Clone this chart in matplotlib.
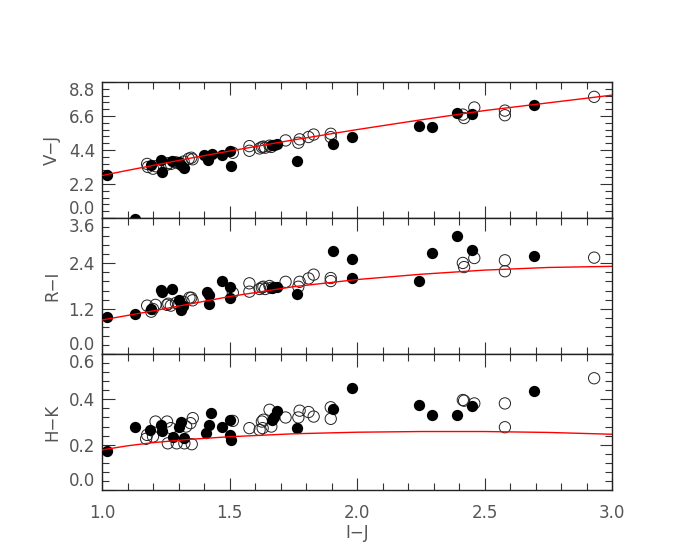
import numpy as np
import matplotlib
matplotlib.use("Agg")
import matplotlib.pyplot as plt
from matplotlib.ticker import MultipleLocator

# ---- data ----
# V-J panel
vj_fill_x = [1.02, 1.13, 1.193, 1.232, 1.236, 1.275, 1.30, 1.31, 1.32, 1.40, 1.415, 1.43, 1.47,
             1.50, 1.504, 1.667, 1.676, 1.687, 1.765, 1.905, 1.98, 2.245, 2.295, 2.393, 2.45, 2.695]
vj_fill_y = [2.77, -0.05, 3.41, 3.77, 2.97, 3.72, 3.62, 3.45, 3.23, 4.09, 3.73, 4.16, 4.05,
             4.31, 3.36, 4.70, 4.74, 4.76, 3.66, 4.79, 5.27, 5.93, 5.88, 6.80, 6.73, 7.28]
vj_open_x = [1.177, 1.18, 1.20, 1.21, 1.255, 1.26, 1.27, 1.29, 1.30, 1.32, 1.34, 1.35, 1.355,
             1.513, 1.578, 1.578, 1.618, 1.627, 1.633, 1.64, 1.657, 1.664, 1.72, 1.77, 1.775,
             1.81, 1.83, 1.897, 1.897, 2.415, 2.42, 2.46, 2.58, 2.58, 2.93]
vj_open_y = [3.50, 3.30, 3.19, 3.35, 3.45, 3.55, 3.50, 3.60, 3.55, 3.65, 3.84, 3.90, 3.80,
             4.22, 4.65, 4.35, 4.50, 4.58, 4.62, 4.55, 4.68, 4.60, 5.02, 4.87, 5.09,
             5.24, 5.40, 5.45, 5.23, 6.69, 6.47, 7.15, 6.95, 6.65, 7.84]

# R-I panel
ri_fill_x = [1.02, 1.13, 1.193, 1.232, 1.236, 1.275, 1.30, 1.31, 1.317, 1.41, 1.42, 1.418, 1.47,
             1.503, 1.503, 1.667, 1.676, 1.687, 1.765, 1.905, 1.98, 1.98, 2.245, 2.295, 2.393,
             2.45, 2.695]
ri_fill_y = [0.99, 1.07, 1.19, 1.69, 1.63, 1.72, 1.43, 1.17, 1.26, 1.63, 1.56, 1.32, 1.93,
             1.78, 1.49, 1.74, 1.76, 1.77, 1.59, 2.72, 2.52, 2.02, 1.94, 2.67, 3.13,
             2.76, 2.59]
ri_open_x = [1.177, 1.193, 1.20, 1.21, 1.255, 1.26, 1.27, 1.29, 1.30, 1.32, 1.343, 1.35, 1.355,
             1.513, 1.578, 1.578, 1.618, 1.627, 1.633, 1.64, 1.657, 1.664, 1.72, 1.77, 1.775,
             1.81, 1.83, 1.897, 1.897, 2.415, 2.42, 2.46, 2.58, 2.58, 2.93]
ri_open_y = [1.28, 1.12, 1.19, 1.30, 1.30, 1.33, 1.28, 1.35, 1.32, 1.38, 1.49, 1.49, 1.42,
             1.62, 1.87, 1.65, 1.72, 1.76, 1.78, 1.72, 1.80, 1.75, 1.91, 1.78, 1.91,
             2.00, 2.10, 2.01, 1.93, 2.41, 2.30, 2.54, 2.48, 2.19, 2.55]

# H-K panel
hk_fill_x = [1.02, 1.13, 1.19, 1.23, 1.236, 1.278, 1.30, 1.31, 1.32, 1.408, 1.418, 1.428, 1.47,
             1.503, 1.50, 1.504, 1.667, 1.676, 1.687, 1.765, 1.905, 1.98, 2.245, 2.295, 2.393,
             2.45, 2.695]
hk_fill_y = [0.172, 0.280, 0.265, 0.288, 0.261, 0.232, 0.280, 0.299, 0.229, 0.251, 0.288, 0.339,
             0.277, 0.310, 0.243, 0.221, 0.310, 0.324, 0.347, 0.273, 0.358, 0.448, 0.377, 0.331,
             0.333, 0.372, 0.438]
hk_open_x = [1.173, 1.177, 1.20, 1.21, 1.255, 1.258, 1.27, 1.293, 1.323, 1.33, 1.347, 1.356, 1.352,
             1.513, 1.578, 1.618, 1.627, 1.633, 1.63, 1.657, 1.664, 1.72, 1.77, 1.775, 1.81,
             1.83, 1.897, 1.897, 2.415, 2.42, 2.46, 2.58, 2.58, 2.93]
hk_open_y = [0.226, 0.243, 0.236, 0.302, 0.302, 0.206, 0.273, 0.206, 0.206, 0.280, 0.295, 0.317,
             0.202, 0.305, 0.273, 0.265, 0.302, 0.310, 0.273, 0.354, 0.280, 0.320, 0.320, 0.350,
             0.344, 0.324, 0.365, 0.314, 0.397, 0.394, 0.382, 0.382, 0.277, 0.493]

# red fit curves, read at these I-J values
fit_x = [1.0, 1.1, 1.2, 1.35, 1.5, 1.75, 2.0, 2.25, 2.5, 2.75, 3.0]
vj_fit = [2.75, 3.08, 3.40, 3.88, 4.33, 5.05, 5.72, 6.35, 6.95, 7.45, 7.95]
ri_fit = [0.90, 1.02, 1.14, 1.33, 1.52, 1.78, 1.97, 2.11, 2.22, 2.29, 2.32]
hk_fit = [0.177, 0.195, 0.209, 0.224, 0.235, 0.248, 0.255, 0.258, 0.258, 0.254, 0.246]

panels = [
    ("V\u2212J", vj_fill_x, vj_fill_y, vj_open_x, vj_open_y, vj_fit, 8.8, [0.0, 2.2, 4.4, 6.6, 8.8]),
    ("R\u2212I", ri_fill_x, ri_fill_y, ri_open_x, ri_open_y, ri_fit, 3.6, [0.0, 1.2, 2.4, 3.6]),
    ("H\u2212K", hk_fill_x, hk_fill_y, hk_open_x, hk_open_y, hk_fit, 0.6, [0.0, 0.2, 0.4, 0.6]),
]

txt_color = "#555555"
fig = plt.figure(figsize=(6.81, 5.45), dpi=100)
left, width = 102 / 681, 510 / 681
bottoms = [0.6, 0.3505, 0.1009]
height = 136 / 545

for i, (name, fx, fy, ox, oy, fit, ymax, yt) in enumerate(panels):
    ax = fig.add_axes([left, bottoms[i], width, height])
    ax.scatter(ox, oy, s=66, facecolors="none", edgecolors="#222222", linewidths=0.7, zorder=2)
    ax.scatter(fx, fy, s=66, color="black", linewidths=0, zorder=3)
    ax.plot(fit_x, fit, color="red", lw=1.0, zorder=4)

    ax.set_xlim(1.0, 3.0)
    ax.set_ylim(0, ymax)
    ax.set_yticks(yt)
    ax.set_yticklabels([f"{v:.1f}" for v in yt])
    ax.yaxis.set_minor_locator(MultipleLocator(yt[1] / 5))
    ax.xaxis.set_major_locator(MultipleLocator(0.5))
    ax.xaxis.set_minor_locator(MultipleLocator(0.1))
    ax.tick_params(which="both", direction="in", top=True, right=True, colors="#333333",
                   labelcolor=txt_color, labelsize=12)
    ax.tick_params(which="major", length=9, width=0.8)
    ax.tick_params(which="minor", length=5, width=0.8)
    ax.tick_params(axis="y", pad=5)
    ax.tick_params(axis="x", pad=10)
    for sp in ax.spines.values():
        sp.set_color("#222222")
        sp.set_linewidth(1.0)

    # IDL keeps the end labels inside the panel
    labs = ax.get_yticklabels()
    labs[0].set_verticalalignment("bottom")
    labs[-1].set_verticalalignment("top")

    ax.set_ylabel(name, fontsize=12, color=txt_color, va="center")
    ax.yaxis.set_label_coords(-0.098, 0.5)

    if i < 2:
        ax.tick_params(labelbottom=False)
    else:
        ax.set_xticks([1.0, 1.5, 2.0, 2.5, 3.0])
        ax.set_xticklabels(["1.0", "1.5", "2.0", "2.5", "3.0"])
        ax.set_xlabel("I\u2212J", fontsize=12, color=txt_color, va="center")
        ax.xaxis.set_label_coords(0.5, -0.316)

fig.savefig("out.png", dpi=100)
